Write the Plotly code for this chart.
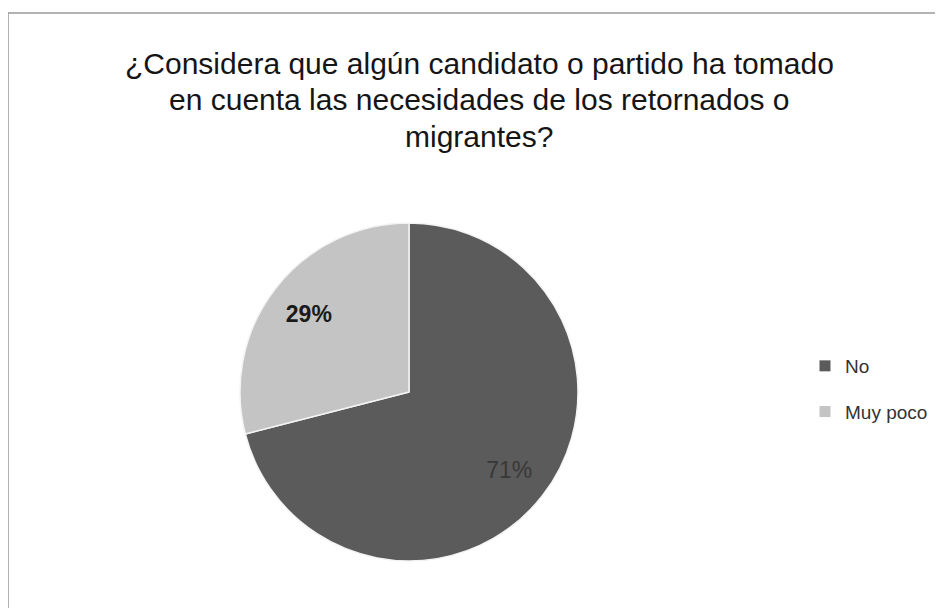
import plotly.graph_objects as go

labels = ["No", "Muy poco"]
values = [71, 29]
colors = ["#5b5b5b", "#c4c4c4"]
text_colors = ["#383838", "#1a1a1a"]
templates = ["%{percent:.0%}", "<b>%{percent:.0%}</b>"]
title_lines = [
    "¿Considera que algún candidato o partido ha tomado",
    "en cuenta las necesidades de los retornados o",
    "migrantes?",
]

W, H = 943, 608
FONT = "Liberation Sans, Arial"
pie_domain = dict(x=[232 / W, 570 / W], y=[1 - 553 / H, 1 - 215 / H])
fig = go.Figure()
# full disc (no labels)
fig.add_trace(go.Pie(
    labels=labels, values=values, sort=False, direction="clockwise", rotation=0,
    marker=dict(colors=colors, line=dict(color="#f4f4f4", width=1.5)),
    textinfo="none", showlegend=False, hoverinfo="label+percent",
    domain=pie_domain,
))
# transparent ring on top carrying the percentage labels in its outer band
fig.add_trace(go.Pie(
    labels=labels, values=values, sort=False, direction="clockwise", rotation=0,
    hole=0.5,
    marker=dict(colors=["rgba(0,0,0,0)", "rgba(0,0,0,0)"], line=dict(width=0)),
    texttemplate=templates, textposition="inside", insidetextorientation="horizontal",
    textfont=dict(family=FONT, size=23, color=text_colors),
    showlegend=False, hoverinfo="skip",
    domain=pie_domain,
))
for i, lab in enumerate(labels):
    fig.add_trace(go.Scatter(
        x=[None], y=[None], mode="markers", name=lab, legendgroup=lab,
        marker=dict(symbol="square", size=11, color=colors[i]),
    ))

ann = []
for i, line in enumerate(title_lines):
    ann.append(dict(text=line, xref="paper", yref="paper", x=471 / W,
                    y=1 - (55 + 36.5 * i) / H, xanchor="center", yanchor="middle",
                    showarrow=False,
                    font=dict(family=FONT, size=30, color="#151515")))

fig.update_layout(
    width=W, height=H, margin=dict(l=0, r=0, t=0, b=0),
    paper_bgcolor="white", plot_bgcolor="white",
    xaxis=dict(visible=False), yaxis=dict(visible=False),
    annotations=ann,
    legend=dict(x=797 / W, xanchor="left", y=1 - 339 / H, yanchor="top",
                font=dict(family=FONT, size=19, color="#333333"),
                tracegroupgap=18, itemwidth=30, bgcolor="rgba(0,0,0,0)"),
    shapes=[dict(type="rect", xref="paper", yref="paper",
                 x0=0 / W, x1=1.0, y0=-0.02, y1=1 - 5 / H,
                 line=dict(color="#9a9a9a", width=1.5))],
)
fig.write_html("out.html")
